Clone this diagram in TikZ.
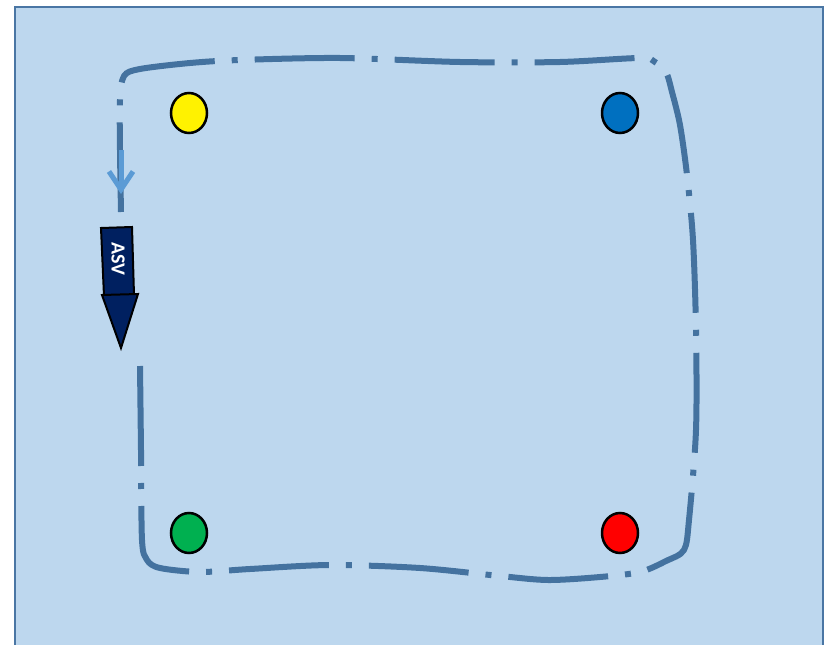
\documentclass[tikz,border=0pt]{standalone}
\usepackage{fontspec}
\setsansfont{Carlito}
\usepackage{tikz}
\usetikzlibrary{arrows.meta,shapes.geometric}
\definecolor{panel}{HTML}{BDD7EE}
\definecolor{panelline}{HTML}{4A76A4}
\definecolor{track}{HTML}{44729F}
\definecolor{lightarrow}{HTML}{5B9BD5}
\definecolor{navy}{HTML}{002060}

\begin{document}
\begin{tikzpicture}[x=1pt, y=-1pt,
    marker/.style={draw=black, ellipse, line width=2.5pt, minimum width=36pt,
      minimum height=40pt, inner sep=0pt},
    route/.style={draw=track, line width=6pt, line cap=butt,
      dash pattern=on 100pt off 17pt on 6pt off 17pt},
    asvbox/.style={draw=black, fill=navy, line width=2pt, line join=miter}]
\useasboundingbox (0,0) rectangle (828,645);
\draw[panelline, fill=panel, line width=2pt] (15,7) rectangle (823,660);

% path of the vehicle
\draw[route] plot[smooth, tension=0.5] coordinates {
  (140,366) (141,450) (142,540) (147,560) (160,568) (200,572) (250,569)
  (330,565) (420,568) (500,576) (548,580) (600,577) (640,572) (666,561)
  (684,550) (689,520) (696,430) (696,330) (693,240) (687,175) (680,125)
  (672,92) (666,72) (655,62) (640,58) (560,62) (460,62) (340,58)
  (240,60) (190,63) (140,69) (124,76) (120,100) (120,150) (121,212)};

% direction of travel
\coordinate (dirtop) at (121,150);
\coordinate (dirtip) at (121,194);
\draw[lightarrow, line width=5pt, -{Straight Barb[length=18pt, width=24pt, line width=5pt]}]
  (dirtop) -- (dirtip);

% the ASV
\draw[asvbox] (101,228) -- (132,227) -- (134,295) -- (104,296) -- cycle;
\draw[asvbox] (102,295) -- (138,294) -- (121,348) -- cycle;
\node[text=white, font=\sffamily\bfseries\fontsize{20}{20}\selectfont, rotate=-90]
  (asv) at (118,259) {ASV};

% markers
\node[marker, fill=yellow] (yellow) at (189,113) {};
\node[marker, fill={rgb,255:red,0;green,112;blue,192}] (blue) at (620,113) {};
\node[marker, fill={rgb,255:red,0;green,176;blue,80}] (green) at (189,533) {};
\node[marker, fill=red] (red) at (620,533) {};
\end{tikzpicture}
\end{document}
